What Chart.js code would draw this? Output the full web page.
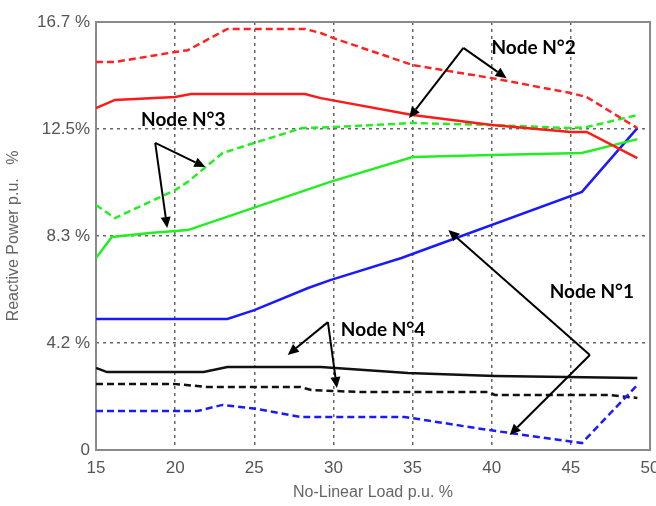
<!DOCTYPE html>
<html>
<head>
<meta charset="utf-8">
<script src="https://cdn.jsdelivr.net/npm/chart.js@4/dist/chart.umd.min.js"></script>
<style>
  html, body { margin: 0; padding: 0; background: #fff; }
  #wrap { width: 656px; height: 506px; }
</style>
</head>
<body>
<div id="wrap"><canvas id="chart" width="656" height="506"></canvas></div>
<script>
/* ─── Data ──────────────────────────────────────── */
const yTickValues = [0, 4.175, 8.35, 12.525, 16.7];
const yTickLabels = ['0', '4.2 %', '8.3 %', '12.5%', '16.7 %'];

const n2DashX  = [15, 16.2, 20, 20.8, 23.3, 28.2, 29.2, 30, 35, 40, 45, 46, 49.2];
const n2DashY  = [15.14, 15.14, 15.53, 15.6, 16.43, 16.43, 16.27, 16.07, 15.02, 14.51, 13.93, 13.77, 12.56];
const n2SolidX = [15, 16.2, 20, 21, 28.2, 29.2, 35, 40, 45, 46, 49.2];
const n2SolidY = [13.34, 13.66, 13.77, 13.89, 13.89, 13.73, 13.07, 12.68, 12.41, 12.41, 11.39];

const n3DashX  = [15, 16.2, 20, 20.8, 23, 25, 28, 30, 35, 40, 45, 46, 49.2];
const n3DashY  = [9.56, 9.05, 10.14, 10.46, 11.59, 11.98, 12.56, 12.6, 12.76, 12.68, 12.56, 12.6, 13.07];
const n3SolidX = [15, 16, 18.4, 20.8, 29.8, 35, 40, 45.7, 49.2];
const n3SolidY = [7.49, 8.31, 8.47, 8.58, 10.46, 11.43, 11.51, 11.59, 12.13];

const n1SolidX = [15, 23.3, 25, 28.4, 29.8, 34.3, 45.7, 49.2];
const n1SolidY = [5.11, 5.11, 5.46, 6.32, 6.63, 7.49, 10.07, 12.56];
const n1DashX  = [15, 21.4, 23, 25.2, 27.9, 34.5, 39.8, 45.7, 49.2];
const n1DashY  = [1.52, 1.52, 1.76, 1.6, 1.29, 1.29, 0.78, 0.27, 2.54];

const n4SolidX = [15, 15.7, 21.8, 23.3, 29.2, 34.7, 40.2, 49.2];
const n4SolidY = [3.2, 3.04, 3.04, 3.24, 3.24, 3.0, 2.89, 2.81];
const n4DashX  = [15, 19.9, 22, 27.9, 28.6, 31.7, 39.8, 40.2, 47.4, 49.2];
const n4DashY  = [2.58, 2.58, 2.46, 2.46, 2.34, 2.26, 2.26, 2.15, 2.15, 2.03];

/* ─── Annotations: label + arrows in data units ─── */
const notes = [
  { text: 'Node N°2', at: [39.98, 15.68], tail: [38.21, 15.69], heads: [[34.78, 12.95], [40.94, 14.51]] },
  { text: 'Node N°3', at: [17.85, 12.88], tail: [18.74, 11.98], heads: [[21.91, 11.04], [19.5, 8.66]] },
  { text: 'Node N°1', at: [43.66, 6.16],  tail: [46.2, 3.71],   heads: [[37.26, 8.58], [41.13, 0.585]] },
  { text: 'Node N°4', at: [30.47, 4.68],  tail: [29.65, 4.99],  heads: [[27.11, 3.71], [30.22, 2.42]] }
];

const pts = (xs, ys) => xs.map((x, i) => ({ x, y: ys[i] }));

function series(xs, ys, color, dashed) {
  return {
    data: pts(xs, ys),
    borderColor: color,
    borderWidth: 2.5,
    borderDash: dashed ? [7, 4] : [],
    pointRadius: 0,
    tension: 0,
    fill: false
  };
}

/* ─── Frame + annotation plugin ─────────────────── */
const framePlugin = {
  id: 'frame',
  beforeDatasetsDraw(chart) {
    const { ctx, chartArea: a } = chart;
    ctx.save();
    ctx.strokeStyle = '#8a8a8a';
    ctx.lineWidth = 2;
    ctx.strokeRect(a.left, a.top, a.right - a.left, a.bottom - a.top);
    ctx.restore();
  },
  afterDatasetsDraw(chart) {
    const { ctx, scales: { x, y } } = chart;
    const px = p => [x.getPixelForValue(p[0]), y.getPixelForValue(p[1])];
    ctx.save();
    ctx.strokeStyle = '#000';
    ctx.fillStyle = '#000';
    ctx.lineWidth = 2;
    notes.forEach(n => {
      const [tx, ty] = px(n.tail);
      n.heads.forEach(h => {
        const [hx, hy] = px(h);
        const ang = Math.atan2(hy - ty, hx - tx);
        const len = 11, w = 5;
        const bx = hx - len * Math.cos(ang), by = hy - len * Math.sin(ang);
        ctx.beginPath();
        ctx.moveTo(tx, ty);
        ctx.lineTo(bx, by);
        ctx.stroke();
        ctx.beginPath();
        ctx.moveTo(hx, hy);
        ctx.lineTo(bx + w * Math.sin(ang), by - w * Math.cos(ang));
        ctx.lineTo(bx - w * Math.sin(ang), by + w * Math.cos(ang));
        ctx.closePath();
        ctx.fill();
      });
      const [lx, ly] = px(n.at);
      ctx.font = 'bold 19px Lato, "Open Sans", sans-serif';
      ctx.textAlign = 'left';
      ctx.textBaseline = 'middle';
      ctx.fillText(n.text, lx, ly);
    });
    ctx.restore();
  }
};

/* ─── Chart ─────────────────────────────────────── */
const tickFont = { family: "'Liberation Sans Narrow', 'Liberation Sans', sans-serif", size: 17 };
const gridColor = (edgeA, edgeB) => c =>
  (c.tick.value === edgeA || c.tick.value === edgeB) ? 'rgba(0,0,0,0)' : '#666';

new Chart(document.getElementById('chart'), {
  type: 'line',
  data: {
    datasets: [
      series(n2DashX, n2DashY, '#ff2222', true),
      series(n2SolidX, n2SolidY, '#ff1a1a', false),
      series(n3DashX, n3DashY, '#22ee22', true),
      series(n3SolidX, n3SolidY, '#22ee22', false),
      series(n1SolidX, n1SolidY, '#1a1aff', false),
      series(n1DashX, n1DashY, '#1a1aff', true),
      series(n4SolidX, n4SolidY, '#111', false),
      series(n4DashX, n4DashY, '#111', true)
    ]
  },
  options: {
    responsive: false,
    animation: false,
    layout: { padding: { top: 22, right: 6, left: 0, bottom: 0 } },
    plugins: { legend: { display: false }, tooltip: { enabled: false } },
    scales: {
      x: {
        type: 'linear',
        min: 15, max: 50,
        afterFit: s => { s.height = 56; s.paddingRight = 0; s.paddingLeft = 0; },
        ticks: { stepSize: 5, color: '#555', font: tickFont, padding: 8, maxRotation: 0 },
        grid: { color: gridColor(15, 50), lineWidth: 1.5, drawTicks: false },
        border: { display: false, dash: [3, 4] },
        title: {
          display: true, text: 'No-Linear Load p.u. %', color: '#666',
          font: { family: tickFont.family, size: 16 }, padding: { top: 3 }
        }
      },
      y: {
        min: 0, max: 16.7,
        afterFit: s => { s.width = 96; },
        afterBuildTicks: s => { s.ticks = yTickValues.map(v => ({ value: v })); },
        ticks: {
          color: '#555', font: tickFont, padding: 6,
          callback: (v, i) => yTickLabels[i]
        },
        grid: { color: gridColor(0, 16.7), lineWidth: 1.5, drawTicks: false },
        border: { display: false, dash: [3, 4] },
        title: {
          display: true, text: 'Reactive Power p.u.   %', color: '#666',
          font: { family: tickFont.family, size: 16 }, padding: { bottom: 0 }
        }
      }
    }
  },
  plugins: [framePlugin]
});
</script>
</body>
</html>
